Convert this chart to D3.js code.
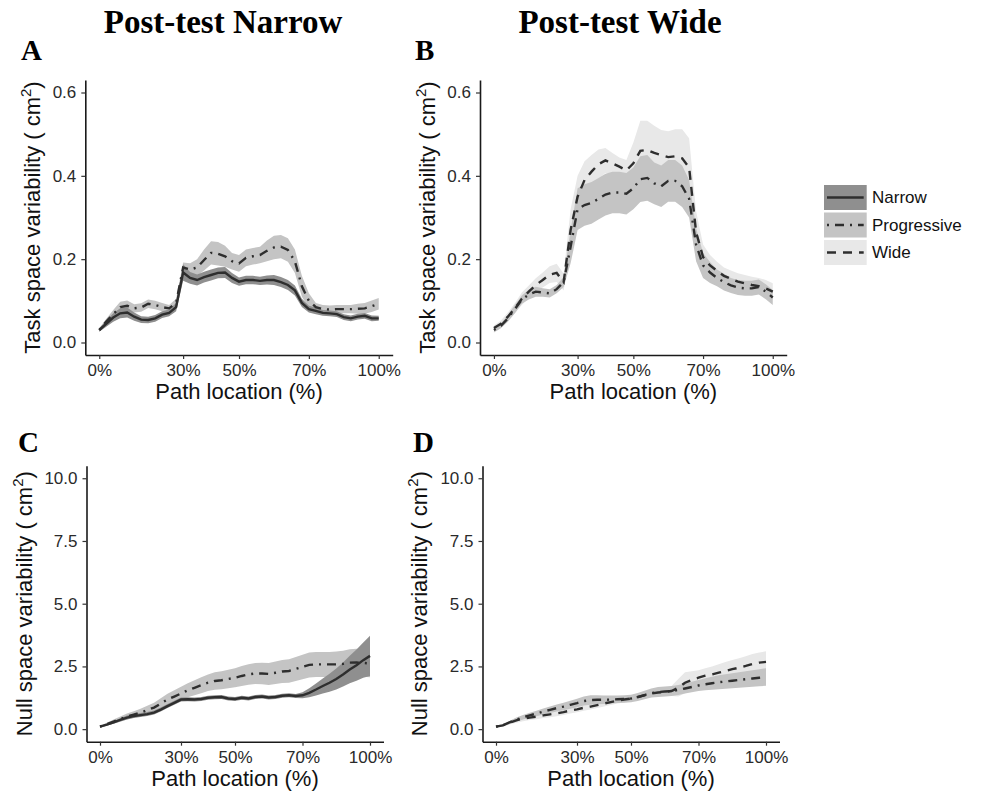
<!DOCTYPE html>
<html><head><meta charset="utf-8">
<script src="https://cdn.jsdelivr.net/npm/d3@7"></script>
<style>body{margin:0;background:#fff}svg{display:block}</style>
</head><body><svg id="c" width="981" height="793"></svg>
<script>
// ---------------- DATA ----------------
const pathX = [0,2.5,5,7.5,10,12.5,15,17.5,20,22.5,25,27.5,30,32.5,35,37.5,40,42.5,45,47.5,50,52.5,55,57.5,60,62.5,65,67.5,70,72.5,75,77.5,80,82.5,85,87.5,90,92.5,95,97.5,100];
const xTickValues = [0,30,50,75,100];
const xTickLabels = ['0%','30%','50%','70%','100%'];
const taskTicks = [0,0.2,0.4,0.6];
const nullTicks = [0,2.5,5,7.5,10];
const groups = ['Narrow','Progressive','Wide'];

// Panel A: Post-test Narrow, task space
const aNarrowMean = [0.030,0.045,0.060,0.070,0.072,0.062,0.055,0.054,0.058,0.067,0.071,0.085,0.168,0.155,0.150,0.157,0.162,0.167,0.168,0.155,0.146,0.150,0.150,0.148,0.150,0.150,0.145,0.138,0.125,0.095,0.080,0.076,0.071,0.070,0.068,0.061,0.058,0.062,0.064,0.058,0.058];
const aNarrowSE   = [0.004,0.007,0.010,0.012,0.012,0.010,0.008,0.008,0.008,0.008,0.008,0.010,0.020,0.014,0.013,0.013,0.013,0.013,0.013,0.012,0.010,0.010,0.010,0.010,0.011,0.012,0.012,0.012,0.012,0.010,0.008,0.008,0.007,0.007,0.007,0.007,0.007,0.007,0.007,0.007,0.006];
const aProgMean   = [0.030,0.050,0.068,0.085,0.088,0.082,0.084,0.093,0.090,0.085,0.082,0.095,0.180,0.175,0.180,0.198,0.215,0.213,0.207,0.195,0.190,0.203,0.207,0.210,0.220,0.228,0.230,0.222,0.195,0.135,0.100,0.085,0.080,0.079,0.080,0.080,0.080,0.081,0.082,0.087,0.093];
const aProgSE     = [0.004,0.007,0.010,0.013,0.013,0.010,0.010,0.010,0.010,0.010,0.008,0.010,0.012,0.015,0.020,0.025,0.028,0.028,0.025,0.020,0.020,0.020,0.020,0.020,0.025,0.028,0.028,0.028,0.028,0.025,0.018,0.010,0.010,0.010,0.010,0.010,0.010,0.012,0.013,0.014,0.014];

// Panel B: Post-test Wide, task space
const bProgMean = [0.030,0.040,0.058,0.080,0.103,0.115,0.122,0.120,0.118,0.128,0.145,0.230,0.320,0.330,0.335,0.345,0.355,0.360,0.360,0.357,0.370,0.392,0.395,0.382,0.375,0.388,0.388,0.375,0.345,0.235,0.185,0.168,0.155,0.145,0.137,0.132,0.130,0.130,0.133,0.122,0.108];
const bProgSE   = [0.006,0.006,0.008,0.010,0.010,0.012,0.012,0.010,0.010,0.010,0.012,0.040,0.050,0.050,0.050,0.050,0.050,0.050,0.050,0.050,0.050,0.055,0.055,0.050,0.050,0.050,0.050,0.050,0.045,0.040,0.030,0.025,0.020,0.020,0.018,0.018,0.018,0.018,0.018,0.018,0.018];
const bWideMean = [0.035,0.045,0.062,0.082,0.105,0.122,0.138,0.150,0.163,0.167,0.145,0.270,0.350,0.390,0.410,0.428,0.437,0.430,0.422,0.413,0.430,0.460,0.462,0.455,0.450,0.445,0.447,0.442,0.420,0.265,0.205,0.185,0.172,0.160,0.153,0.146,0.142,0.138,0.135,0.130,0.122];
const bWideSE   = [0.006,0.008,0.010,0.012,0.015,0.015,0.016,0.018,0.020,0.022,0.020,0.050,0.050,0.045,0.040,0.035,0.030,0.025,0.022,0.025,0.050,0.072,0.070,0.065,0.060,0.062,0.065,0.070,0.070,0.050,0.030,0.025,0.022,0.020,0.020,0.020,0.020,0.020,0.020,0.020,0.020];

// Panel C: Post-test Narrow, null space
const cNarrowMean = [0.10,0.18,0.27,0.37,0.46,0.52,0.56,0.60,0.66,0.78,0.92,1.05,1.18,1.19,1.18,1.20,1.25,1.27,1.28,1.22,1.20,1.25,1.22,1.28,1.30,1.26,1.28,1.33,1.35,1.32,1.35,1.45,1.58,1.72,1.85,2.00,2.18,2.38,2.55,2.75,2.92];
const cNarrowSE   = [0.03,0.04,0.05,0.06,0.08,0.08,0.08,0.08,0.08,0.08,0.08,0.08,0.08,0.08,0.08,0.08,0.08,0.08,0.08,0.08,0.08,0.08,0.08,0.08,0.08,0.08,0.08,0.08,0.08,0.08,0.12,0.18,0.24,0.30,0.36,0.42,0.48,0.55,0.62,0.70,0.80];
const cProgMean   = [0.10,0.20,0.30,0.40,0.50,0.58,0.66,0.76,0.86,1.02,1.18,1.30,1.42,1.55,1.65,1.75,1.85,1.92,1.95,2.00,2.05,2.12,2.18,2.22,2.22,2.20,2.25,2.30,2.32,2.40,2.48,2.56,2.58,2.58,2.58,2.58,2.60,2.65,2.66,2.64,2.62];
const cProgSE     = [0.04,0.06,0.08,0.10,0.12,0.13,0.15,0.17,0.19,0.21,0.23,0.25,0.27,0.28,0.30,0.32,0.33,0.35,0.36,0.37,0.38,0.40,0.41,0.42,0.43,0.44,0.45,0.46,0.47,0.48,0.49,0.50,0.50,0.50,0.50,0.51,0.52,0.53,0.54,0.55,0.55];

// Panel D: Post-test Wide, null space
const dProgMean = [0.10,0.15,0.27,0.38,0.47,0.55,0.62,0.70,0.77,0.84,0.90,0.97,1.04,1.12,1.16,1.17,1.17,1.18,1.19,1.20,1.22,1.28,1.36,1.44,1.48,1.50,1.52,1.56,1.62,1.68,1.74,1.79,1.83,1.87,1.90,1.93,1.96,1.99,2.02,2.05,2.08];
const dProgSE   = [0.03,0.04,0.06,0.08,0.09,0.10,0.11,0.12,0.13,0.14,0.15,0.16,0.17,0.18,0.19,0.18,0.17,0.16,0.15,0.15,0.15,0.16,0.17,0.18,0.20,0.20,0.20,0.20,0.20,0.21,0.22,0.24,0.26,0.28,0.29,0.30,0.31,0.32,0.33,0.34,0.35];
const dWideMean = [0.10,0.15,0.26,0.35,0.42,0.46,0.50,0.55,0.59,0.63,0.68,0.74,0.79,0.85,0.90,0.96,1.02,1.08,1.14,1.18,1.22,1.28,1.35,1.42,1.46,1.48,1.52,1.65,1.85,1.96,2.05,2.13,2.18,2.25,2.32,2.39,2.45,2.52,2.60,2.65,2.68];
const dWideSE   = [0.03,0.05,0.07,0.09,0.10,0.10,0.11,0.11,0.12,0.12,0.12,0.12,0.12,0.12,0.12,0.12,0.12,0.12,0.12,0.12,0.12,0.13,0.14,0.15,0.16,0.17,0.20,0.35,0.42,0.35,0.30,0.30,0.32,0.34,0.36,0.37,0.38,0.39,0.40,0.41,0.42];

// ---------------- STYLE ----------------
const fills = {Narrow:'#8f8f8f', Progressive:'#c4c4c4', Wide:'#e8e8e8'};
const dashes = {Narrow:null, Progressive:'2,6,9,6', Wide:'9,7'};
const lineColor = '#2e2e2e';
const sans = "'Liberation Sans', Arial, Helvetica, sans-serif";
const serif = "'Liberation Serif', 'Times New Roman', Times, serif";

const svg = d3.select('#c');

function drawPanel(cfg) {
  const x = d3.scaleLinear().domain([-5,105]).range([cfg.left, cfg.right]);
  const y = d3.scaleLinear().domain(cfg.ydom).range([cfg.bottom, cfg.top]);
  const g = svg.append('g');
  cfg.series.forEach(s => {
    const area = d3.area()
      .x((d,i) => x(pathX[i]))
      .y0((d,i) => y(s.mean[i] - s.se[i]))
      .y1((d,i) => y(s.mean[i] + s.se[i]));
    g.append('path').datum(s.mean).attr('d', area).attr('fill', fills[s.group]).attr('stroke','none');
  });
  cfg.series.forEach(s => {
    const line = d3.line().x((d,i) => x(pathX[i])).y(d => y(d));
    g.append('path').datum(s.mean).attr('d', line)
      .attr('fill','none').attr('stroke', lineColor).attr('stroke-width', 2.4)
      .attr('stroke-dasharray', dashes[s.group]);
  });
  const xAxis = d3.axisBottom(x).tickValues(xTickValues)
    .tickFormat((d,i) => xTickLabels[i]).tickSizeInner(4).tickSizeOuter(0).tickPadding(5);
  const yAxis = d3.axisLeft(y).tickValues(cfg.yticks)
    .tickFormat(d3.format('.1f')).tickSizeInner(4).tickSizeOuter(0).tickPadding(5);
  const gx = g.append('g').attr('transform', `translate(0,${cfg.bottom})`).call(xAxis);
  const gy = g.append('g').attr('transform', `translate(${cfg.left},0)`).call(yAxis);
  [gx, gy].forEach(a => {
    a.select('.domain').attr('stroke','#1a1a1a').attr('stroke-width',1.6);
    a.selectAll('.tick line').attr('stroke','#333').attr('stroke-width',1.2);
    a.selectAll('.tick text').attr('fill','#2a2a2a').style('font-family', sans).style('font-size','17px');
  });
  // x title
  g.append('text').attr('x', (x(0)+x(100))/2).attr('y', cfg.bottom + 44)
    .attr('text-anchor','middle').style('font-family', sans).style('font-size','22px').attr('fill','#111')
    .text('Path location (%)');
  // y title
  const yt = g.append('text')
    .attr('transform', `translate(${cfg.ytitleX},${(cfg.top+cfg.bottom)/2}) rotate(-90)`)
    .attr('text-anchor','middle').style('font-family', sans).style('font-size','22px').attr('fill','#111');
  yt.append('tspan').text(cfg.ytitle + ' ( cm');
  yt.append('tspan').attr('dy', -9).style('font-size','15px').text('2');
  yt.append('tspan').attr('dy', 9).text(')');
  // panel letter
  svg.append('text').attr('x', cfg.letterX).attr('y', cfg.letterY)
    .style('font-family', serif).style('font-weight','bold').style('font-size','29px').attr('fill','#000')
    .text(cfg.letter);
}

const S = (group, mean, se) => ({group, mean, se});

drawPanel({letter:'A', letterX:21, letterY:60, left:85.3, right:392.7, top:80, bottom:355,
  ydom:[-0.03,0.63], yticks:taskTicks, ytitle:'Task space variability', ytitleX:39.5,
  series:[S('Progressive', aProgMean, aProgSE), S('Narrow', aNarrowMean, aNarrowSE)]});
drawPanel({letter:'B', letterX:415, letterY:60, left:480, right:786.7, top:80, bottom:355,
  ydom:[-0.03,0.63], yticks:taskTicks, ytitle:'Task space variability', ytitleX:435,
  series:[S('Wide', bWideMean, bWideSE), S('Progressive', bProgMean, bProgSE)]});
drawPanel({letter:'C', letterX:18, letterY:452, left:86.5, right:383.5, top:465.7, bottom:741.7,
  ydom:[-0.5,10.5], yticks:nullTicks, ytitle:'Null space variability', ytitleX:32.3,
  series:[S('Progressive', cProgMean, cProgSE), S('Narrow', cNarrowMean, cNarrowSE)]});
drawPanel({letter:'D', letterX:413, letterY:452, left:482.5, right:779.5, top:465.7, bottom:741.7,
  ydom:[-0.5,10.5], yticks:nullTicks, ytitle:'Null space variability', ytitleX:427.3,
  series:[S('Wide', dWideMean, dWideSE), S('Progressive', dProgMean, dProgSE)]});

// column titles
svg.append('text').attr('x', 223).attr('y', 33).attr('text-anchor','middle')
  .style('font-family', serif).style('font-weight','bold').style('font-size','33px').text('Post-test Narrow');
svg.append('text').attr('x', 620).attr('y', 33).attr('text-anchor','middle')
  .style('font-family', serif).style('font-weight','bold').style('font-size','33px').text('Post-test Wide');

// legend
const leg = svg.append('g').attr('transform','translate(824,185)');
groups.forEach((gname, i) => {
  const row = leg.append('g').attr('transform', `translate(0,${i*27.5})`);
  row.append('rect').attr('width', 42.7).attr('height', 25).attr('fill', fills[gname]);
  row.append('line').attr('x1', 3).attr('x2', 39.7).attr('y1', 12.5).attr('y2', 12.5)
    .attr('stroke', lineColor).attr('stroke-width', 2.4).attr('stroke-dasharray', dashes[gname]);
  row.append('text').attr('x', 48).attr('y', 12.5).attr('dy','0.35em')
    .style('font-family', sans).style('font-size','17px').attr('fill','#111').text(gname);
});
</script></body></html>
